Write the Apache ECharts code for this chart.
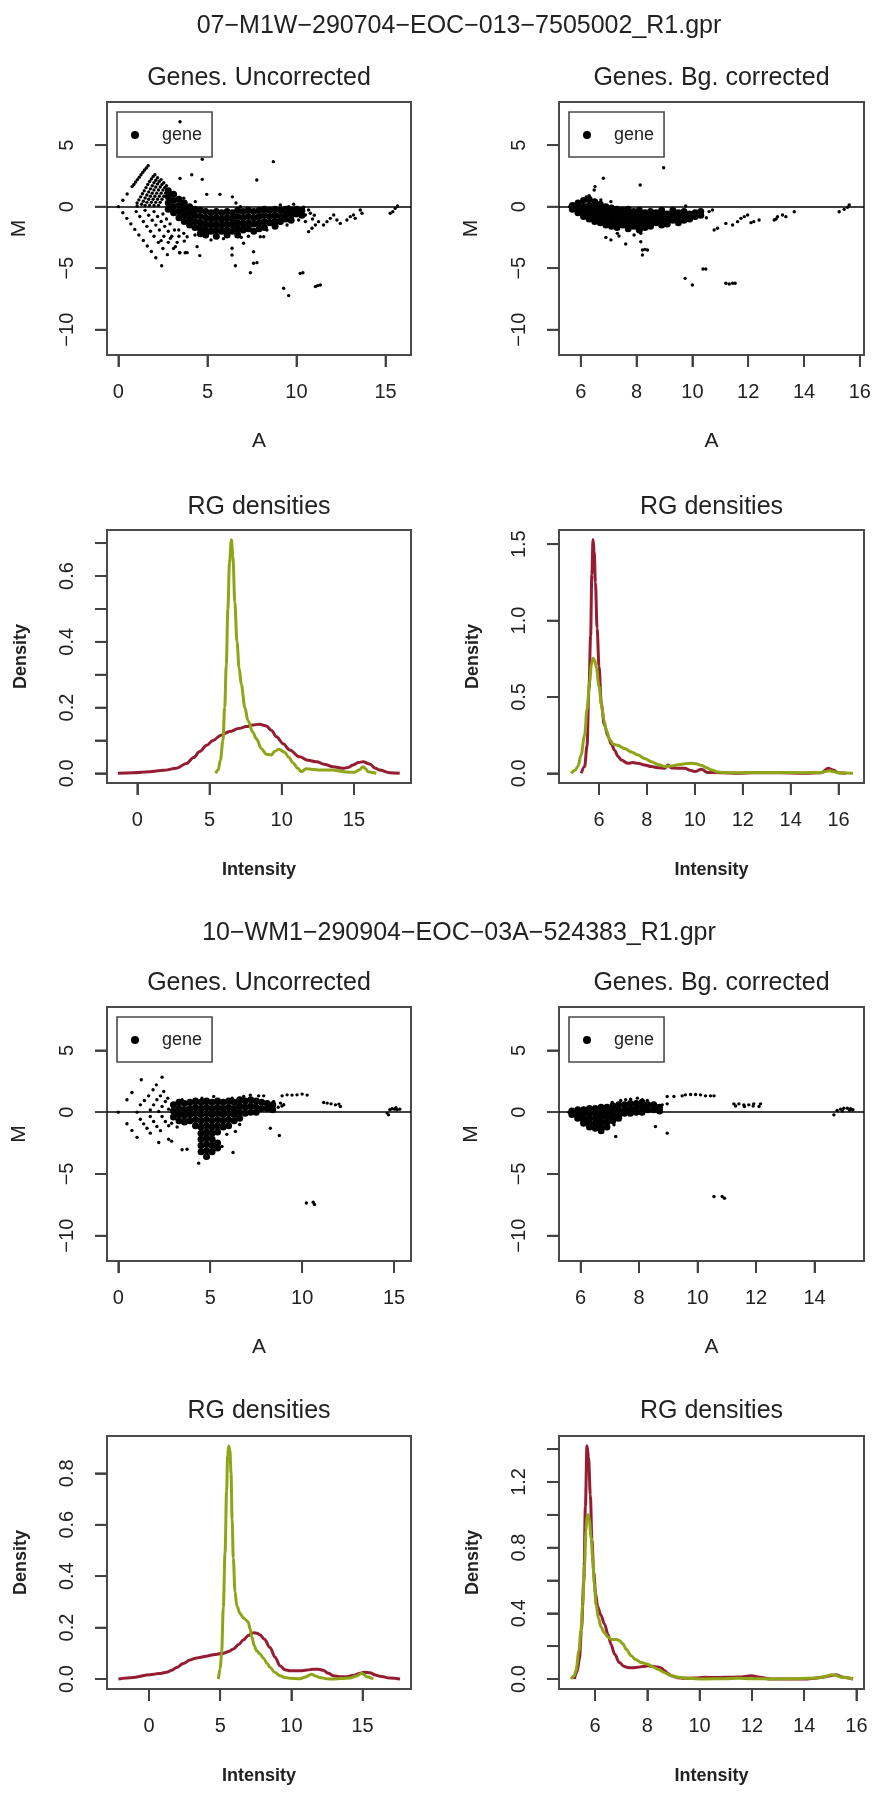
<!DOCTYPE html>
<html><head><meta charset="utf-8">
<script src="https://cdn.jsdelivr.net/npm/echarts@6.0.0/dist/echarts.min.js"></script>
<style>html,body{margin:0;padding:0;background:#fff}#c{width:876px;height:1804px}</style>
</head><body><div id="c"></div>
<script>
// ---------- titles ----------
const mainTitles = ['07\u2212M1W\u2212290704\u2212EOC\u2212013\u22127505002_R1.gpr', '10\u2212WM1\u2212290904\u2212EOC\u221203A\u2212524383_R1.gpr'];
const panelTitles = ['Genes. Uncorrected', 'Genes. Bg. corrected', 'RG densities', 'RG densities',
                     'Genes. Uncorrected', 'Genes. Bg. corrected', 'RG densities', 'RG densities'];
const legendLabel = 'gene';

// ---------- tick values ----------
const ticksA15 = [0, 5, 10, 15];
const ticksA6to16 = [6, 8, 10, 12, 14, 16];
const ticksA6to14 = [6, 8, 10, 12, 14];
const ticksM = [-10, -5, 0, 5];
const ticksD07U = [0, 0.1, 0.2, 0.3, 0.4, 0.5, 0.6, 0.7];
const labelsD07U = [0, 0.2, 0.4, 0.6];
const ticksD07B = [0, 0.5, 1, 1.5];
const ticksD10U = [0, 0.2, 0.4, 0.6, 0.8];
const ticksD10B = [0, 0.2, 0.4, 0.6, 0.8, 1.0, 1.2, 1.4];
const labelsD10B = [0, 0.4, 0.8, 1.2];

// ---------- MA data: array 07, uncorrected ----------
const ma07U_core = [
[2.8,1.3],[2.8,0.8],[2.8,0.3],[2.8,-0.2],
[3.1,1.0],[3.1,0.5],[3.1,0.0],[3.1,-0.5],
[3.4,0.6],[3.4,0.1],[3.4,-0.4],[3.4,-0.9],
[3.7,0.3],[3.7,-0.2],[3.7,-0.7],[3.7,-1.2],
[4.0,0.0],[4.0,-0.5],[4.0,-1.0],[4.0,-1.5],
[4.3,-0.2],[4.3,-0.7],[4.3,-1.2],[4.3,-1.7],
[4.6,-0.3],[4.6,-0.8],[4.6,-1.3],[4.6,-1.8],[4.6,-2.2],
[4.9,-0.4],[4.9,-0.9],[4.9,-1.4],[4.9,-1.9],[4.9,-2.3],
[5.2,-0.5],[5.2,-1.0],[5.2,-1.5],[5.2,-2.0],
[5.5,-0.4],[5.5,-0.9],[5.5,-1.4],[5.5,-1.9],[5.5,-2.4],
[5.8,-0.5],[5.8,-1.0],[5.8,-1.5],[5.8,-2.0],
[6.1,-0.4],[6.1,-0.9],[6.1,-1.4],[6.1,-1.9],[6.1,-2.3],
[6.4,-0.5],[6.4,-1.0],[6.4,-1.5],[6.4,-2.0],
[6.7,-0.3],[6.7,-0.8],[6.7,-1.3],[6.7,-1.8],[6.7,-2.3],
[7.0,-0.4],[7.0,-0.9],[7.0,-1.4],[7.0,-1.9],
[7.3,-0.3],[7.3,-0.8],[7.3,-1.3],[7.3,-1.8],
[7.6,-0.4],[7.6,-0.9],[7.6,-1.4],[7.6,-2.0],
[7.9,-0.3],[7.9,-0.8],[7.9,-1.3],[7.9,-1.8],
[8.2,-0.2],[8.2,-0.7],[8.2,-1.2],[8.2,-1.7],
[8.5,-0.3],[8.5,-0.8],[8.5,-1.3],
[8.8,-0.2],[8.8,-0.7],[8.8,-1.2],[8.8,-1.6],
[9.1,-0.3],[9.1,-0.8],[9.1,-1.2],
[9.4,-0.2],[9.4,-0.6],[9.4,-1.0],
[9.7,-0.3],[9.7,-0.7],[9.7,-1.1],
[10.0,-0.2],[10.0,-0.6],
[10.3,-0.3],[10.3,-0.7]
];
const ma07U_pts = [
[0,0],[0.25,0.52],[0.49,1.03],[0.77,1.63],[0.87,1.8],[0.97,2.0],[1.07,2.2],[1.17,2.4],[1.27,2.6],[1.37,2.8],[1.47,2.98],[1.57,3.15],[1.67,3.33],
[1.05,0.3],[1.15,0.55],[1.25,0.8],[1.35,1.05],[1.45,1.3],[1.55,1.55],[1.65,1.8],[1.75,2.05],[1.85,2.25],[1.95,2.45],[2.05,2.6],
[1.3,0.2],[1.4,0.45],[1.5,0.7],[1.6,0.95],[1.7,1.2],[1.8,1.45],[1.9,1.7],[2.0,1.95],[2.1,2.15],[2.2,2.35],
[1.5,0.1],[1.6,0.35],[1.7,0.6],[1.8,0.85],[1.9,1.1],[2.0,1.35],[2.1,1.6],[2.2,1.85],[2.3,2.05],[2.4,2.2],
[1.75,0.1],[1.85,0.35],[1.95,0.6],[2.05,0.85],[2.15,1.1],[2.25,1.35],[2.35,1.6],[2.45,1.8],[2.55,1.95],
[2.0,0.1],[2.1,0.35],[2.2,0.6],[2.3,0.85],[2.4,1.1],[2.5,1.35],[2.6,1.55],[2.7,1.7],
[2.25,0.1],[2.35,0.35],[2.45,0.6],[2.55,0.85],[2.65,1.1],[2.75,1.3],
[1.05,0.05],
[0.25,-0.5],[0.47,-0.95],[0.7,-1.4],[0.92,-1.85],[1.15,-2.3],[1.4,-2.75],[1.62,-3.2],[1.85,-3.65],[2.1,-4.15],[2.43,-4.8],
[1.0,-0.4],[1.2,-0.8],[1.4,-1.2],[1.6,-1.6],[1.8,-2.0],[2.0,-2.4],[2.25,-2.9],[2.5,-3.4],[2.75,-3.9],
[1.5,-0.3],[1.7,-0.7],[1.9,-1.1],[2.1,-1.5],[2.3,-1.9],[2.55,-2.4],[2.8,-2.9],[3.1,-3.4],[3.45,-3.75],
[2.0,-0.4],[2.2,-0.8],[2.4,-1.2],[2.6,-1.6],[2.8,-2.0],[3.0,-2.4],[3.3,-2.9],[3.75,-3.75],
[2.5,-0.6],[2.7,-1.0],[2.9,-1.4],[3.15,-1.9],[3.4,-2.4],[3.7,-2.8],
[3.46,6.9],[4.71,3.85],[8.70,3.66],[7.77,2.17],[3.46,2.3],[4.12,2.6],[4.71,2.22],[4.96,1.0],[5.7,1.0],[6.4,0.8],[6.6,0.3],
[3.67,0.68],[4.32,0.41],[6.85,0.0],[7.22,-0.1],[9.09,0.14],[9.56,0.0],[9.84,0.2],[10.4,-0.05],[10.68,-0.27],
[3.86,-2.44],[4.42,-3.25],[4.57,-3.98],[3.44,-3.74],[3.86,-3.74],[3.2,-3.25],[2.92,-2.57],[2.4,-2.76],[3.39,-1.9],[3.67,-2.17],
[6.38,-3.38],[6.38,-3.93],[6.57,-4.8],[7.03,-2.98],[7.59,-3.66],[7.59,-4.6],[7.78,-4.55],[7.41,-5.37],[8.16,-2.44],[8.34,-1.9],
[9.28,-6.63],[9.56,-7.23],[10.21,-5.42],[10.36,-5.37],[11.06,-6.5],[11.19,-6.42],[11.34,-6.37],
[10.68,-2.03],[10.87,-1.76],[11.06,-1.49],[11.24,-1.22],[11.52,-1.49],[11.71,-1.22],[11.9,-0.95],[12.09,-0.68],[12.27,-1.08],[12.46,-1.36],
[12.83,-1.08],[13.02,-0.81],[13.2,-0.68],[13.3,-0.95],[13.58,-0.27],[13.68,-0.54],[15.26,-0.54],[15.41,-0.41],[15.54,-0.14],[15.67,0.05],
[8.72,-1.08],[9.09,-1.36],[9.47,-1.49],[9.75,-0.81],[10.12,-1.08],[10.5,-0.68],[10.78,-0.54],[7.97,-2.44],[5.2,-2.7],[5.9,-2.6],
[6.9,-2.5],[7.3,-2.4],[4.3,-2.3],[10.5,-1.2],[10.9,-1.0],[11.0,-0.7]
];

// ---------- MA data: array 07, background corrected ----------
const ma07B_core = [
[5.7,0.1],[5.7,-0.2],
[5.9,0.3],[5.9,-0.2],[5.9,-0.5],
[6.1,0.5],[6.1,0.0],[6.1,-0.4],[6.1,-0.8],
[6.3,0.6],[6.3,0.1],[6.3,-0.3],[6.3,-0.7],[6.3,-1.0],
[6.5,0.4],[6.5,0.0],[6.5,-0.4],[6.5,-0.8],[6.5,-1.2],
[6.7,0.2],[6.7,-0.2],[6.7,-0.6],[6.7,-1.0],[6.7,-1.3],
[6.9,0.0],[6.9,-0.4],[6.9,-0.8],[6.9,-1.2],[6.9,-1.5],
[7.1,-0.1],[7.1,-0.5],[7.1,-0.9],[7.1,-1.3],[7.1,-1.6],
[7.3,-0.2],[7.3,-0.6],[7.3,-1.0],[7.3,-1.4],[7.3,-1.7],
[7.5,-0.3],[7.5,-0.7],[7.5,-1.1],[7.5,-1.5],
[7.7,-0.2],[7.7,-0.6],[7.7,-1.0],[7.7,-1.4],[7.7,-1.8],
[7.9,-0.4],[7.9,-0.8],[7.9,-1.2],[7.9,-1.6],
[8.1,-0.3],[8.1,-0.7],[8.1,-1.1],[8.1,-1.5],[8.1,-1.9],
[8.3,-0.5],[8.3,-0.9],[8.3,-1.3],[8.3,-1.7],
[8.5,-0.4],[8.5,-0.8],[8.5,-1.2],[8.5,-1.6],
[8.7,-0.5],[8.7,-0.9],[8.7,-1.3],
[8.9,-0.3],[8.9,-0.7],[8.9,-1.1],[8.9,-1.5],
[9.1,-0.6],[9.1,-1.0],[9.1,-1.4],
[9.3,-0.3],[9.3,-0.7],[9.3,-1.1],
[9.5,-0.5],[9.5,-0.9],[9.5,-1.3],
[9.7,-0.4],[9.7,-0.8],[9.7,-1.1],
[9.9,-0.6],[9.9,-1.0],
[10.1,-0.5],[10.1,-0.8],
[10.3,-0.4],[10.3,-0.7]
];
const ma07B_pts = [
[5.6,0.0],[8.97,3.17],[6.81,2.31],[8.13,1.76],[6.51,1.63],[6.48,1.36],[6.72,0.54],[7.08,0.41],[6.3,0.9],[6.2,0.8],
[9.76,0.05],[9.28,-0.14],[10.72,-0.27],[10.6,-0.4],[10.5,-0.9],
[10.78,-1.9],[10.9,-1.76],[11.2,-1.36],[11.44,-1.49],[11.62,-1.22],[11.74,-0.95],[11.86,-0.81],[11.98,-0.68],[12.1,-1.3],[12.2,-1.22],
[12.39,-1.08],[12.93,-1.08],[13.05,-0.81],[13.23,-0.68],[13.35,-0.81],[13.65,-0.41],[13.0,-1.0],
[15.26,-0.41],[15.44,-0.22],[15.62,0.14],[15.56,-0.05],
[6.9,-2.5],[7.08,-2.7],[7.31,-2.17],[7.37,-2.39],[7.61,-3.03],[7.91,-2.3],[8.15,-2.17],[8.15,-2.85],[8.21,-3.52],[8.3,-3.47],
[8.21,-3.93],[8.39,-3.52],[8.03,-1.9],
[9.74,-5.83],[10.0,-6.37],[10.38,-5.07],[10.48,-5.07],[11.2,-6.23],[11.32,-6.29],[11.44,-6.23],[11.53,-6.23]
];

// ---------- MA data: array 10, uncorrected ----------
const ma10U_core = [
[3.0,0.6],[3.0,0.1],[3.0,-0.4],
[3.3,0.8],[3.3,0.3],[3.3,-0.2],[3.3,-0.7],
[3.6,0.7],[3.6,0.2],[3.6,-0.3],[3.6,-0.8],
[3.9,0.8],[3.9,0.3],[3.9,-0.2],[3.9,-0.7],
[4.2,0.9],[4.2,0.4],[4.2,-0.1],[4.2,-0.6],[4.2,-1.1],
[4.5,0.8],[4.5,0.3],[4.5,-0.2],[4.5,-0.7],[4.5,-1.2],[4.5,-1.7],[4.5,-2.2],[4.5,-2.7],[4.5,-3.2],
[4.8,0.9],[4.8,0.4],[4.8,-0.1],[4.8,-0.6],[4.8,-1.1],[4.8,-1.6],[4.8,-2.1],[4.8,-2.6],[4.8,-3.1],[4.8,-3.6],
[5.1,0.8],[5.1,0.3],[5.1,-0.2],[5.1,-0.7],[5.1,-1.2],[5.1,-1.7],[5.1,-2.2],[5.1,-2.7],[5.1,-3.2],
[5.4,0.9],[5.4,0.4],[5.4,-0.1],[5.4,-0.6],[5.4,-1.1],[5.4,-1.6],[5.4,-2.5],[5.4,-2.9],
[5.7,0.8],[5.7,0.3],[5.7,-0.2],[5.7,-0.7],[5.7,-1.2],
[6.0,0.9],[6.0,0.4],[6.0,-0.1],[6.0,-0.6],[6.0,-1.1],
[6.3,0.8],[6.3,0.3],[6.3,-0.2],[6.3,-0.7],
[6.6,1.0],[6.6,0.5],[6.6,0.0],[6.6,-0.5],
[6.9,0.9],[6.9,0.4],[6.9,-0.1],
[7.2,1.0],[7.2,0.5],[7.2,0.0],
[7.5,0.9],[7.5,0.4],[7.5,0.0],
[7.8,0.8],[7.8,0.3],
[8.1,0.7],[8.1,0.3],
[8.4,0.6],[8.4,0.2]
];
const ma10U_pts = [
[0,0],[0.47,1.0],[0.74,1.59],[1.25,2.62],
[1.02,0.0],[1.2,0.59],[1.42,0.94],[1.65,1.32],[1.89,1.81],[2.07,2.21],[2.38,2.83],
[1.74,0.18],[1.92,0.59],[2.1,1.0],[2.29,1.32],[2.47,1.67],
[2.2,0.05],[2.38,0.46],[2.56,0.86],[2.69,1.13],
[2.74,0.24],[2.92,0.59],
[0.47,-0.94],[0.74,-1.48],[1.02,-2.04],
[1.2,-0.57],[1.38,-0.95],[1.56,-1.3],[1.74,-1.7],
[1.74,-0.35],[1.92,-0.76],[2.1,-1.16],[2.29,-1.5],
[2.38,-0.35],[2.56,-0.76],[2.74,-1.1],
[2.2,-2.46],[2.74,-2.19],[2.9,-2.35],
[3.47,1.0],[4.55,1.13],[5.19,1.27],[6.19,1.13],[6.82,1.27],[7.18,1.38],[7.63,1.32],[7.91,1.32],[8.45,0.86],[8.82,0.73],
[8.91,1.32],[9.18,1.4],[9.45,1.38],[9.72,1.4],[10.0,1.46],[10.27,1.38],
[11.17,0.78],[11.36,0.73],[11.57,0.67],[11.81,0.59],[12.0,0.65],[12.08,0.46],
[14.62,-0.08],[14.77,0.19],[14.89,0.27],[15.02,0.24],[15.16,0.19],[15.31,0.24],[14.7,-0.22],[15.1,0.35],
[8.27,-1.3],[8.76,-1.89],[6.37,-1.57],[6.24,-3.27],[5.64,-2.78],[3.47,-3.05],[3.74,-3.0],[4.37,-4.13],[5.9,-1.8],[6.6,-1.0],
[3.2,-1.2],[2.9,-0.9],[8.7,0.4],[8.9,0.5],[9.0,0.6],
[10.23,-7.35],[10.6,-7.3],[10.67,-7.48]
];

// ---------- MA data: array 10, background corrected ----------
const ma10B_core = [
[5.7,0.1],[5.7,-0.2],
[5.9,0.2],[5.9,-0.2],[5.9,-0.5],
[6.1,0.2],[6.1,-0.2],[6.1,-0.6],[6.1,-0.9],
[6.3,0.3],[6.3,-0.1],[6.3,-0.5],[6.3,-0.9],[6.3,-1.2],
[6.5,0.3],[6.5,-0.1],[6.5,-0.5],[6.5,-0.9],[6.5,-1.3],
[6.7,0.4],[6.7,0.0],[6.7,-0.4],[6.7,-0.8],[6.7,-1.2],[6.7,-1.5],
[6.9,0.4],[6.9,0.0],[6.9,-0.4],[6.9,-0.8],[6.9,-1.2],
[7.1,0.5],[7.1,0.1],[7.1,-0.3],[7.1,-0.7],
[7.3,0.6],[7.3,0.2],[7.3,-0.2],[7.3,-0.5],
[7.5,0.6],[7.5,0.2],[7.5,-0.1],
[7.7,0.7],[7.7,0.3],[7.7,-0.1],
[7.9,0.7],[7.9,0.3],[7.9,0.0],
[8.1,0.8],[8.1,0.4],[8.1,0.0],
[8.3,0.6],[8.3,0.2],
[8.5,0.6],[8.5,0.2],
[8.7,0.4],[8.7,0.1]
];
const ma10B_pts = [
[5.6,0.0],[7.08,0.78],[7.37,0.94],[7.54,1.0],[7.71,1.05],[7.94,1.13],[8.11,1.0],[8.28,0.94],[8.45,0.59],[8.62,0.51],[8.79,0.59],[8.96,0.67],
[8.96,1.27],[9.19,1.27],[9.47,1.32],[9.58,1.4],[9.76,1.43],[9.93,1.43],[10.1,1.4],[10.27,1.32],[10.44,1.32],[10.56,1.32],
[11.24,0.67],[11.41,0.67],[11.58,0.59],[11.75,0.59],[11.92,0.67],[12.1,0.46],[12.15,0.67],[11.3,0.5],[11.6,0.45],[11.9,0.5],
[14.66,-0.22],[14.77,0.13],[14.89,0.24],[15.0,0.32],[15.12,0.32],[15.23,0.27],[15.31,0.19],[14.95,0.1],[15.2,0.15],
[7.14,-1.03],[7.2,-1.97],[8.56,-1.16],[8.96,-1.7],
[10.56,-6.83],[10.84,-6.83],[10.92,-6.97]
];

// ---------- density data (Intensity, Density) ----------
const dens07U_red = [[-1.34,0],[-0.3,0.002],[0.85,0.005],[1.8,0.009],[2.7,0.015],[3.4,0.03],[3.9,0.048],[4.32,0.066],[4.8,0.085],[5.24,0.1],[5.8,0.116],[6.4,0.127],[7.0,0.136],[7.55,0.142],[8.0,0.147],[8.47,0.149],[8.93,0.144],[9.3,0.13],[9.63,0.111],[10.1,0.09],[10.55,0.071],[11.24,0.05],[11.8,0.04],[12.4,0.035],[13.0,0.027],[13.55,0.02],[14.24,0.015],[14.6,0.018],[14.93,0.025],[15.3,0.033],[15.63,0.035],[16.09,0.028],[16.5,0.015],[16.78,0.01],[17.47,0.002],[18.17,0]];
const dens07U_green = [[5.42,0],[5.6,0.01],[5.75,0.04],[5.93,0.1],[6.05,0.2],[6.16,0.33],[6.27,0.5],[6.38,0.64],[6.51,0.71],[6.62,0.66],[6.75,0.52],[6.9,0.4],[7.05,0.32],[7.2,0.27],[7.45,0.2],[7.66,0.16],[8.0,0.125],[8.24,0.105],[8.6,0.075],[8.93,0.058],[9.28,0.056],[9.55,0.068],[9.8,0.073],[10.2,0.064],[10.5,0.048],[10.78,0.032],[11.1,0.015],[11.36,0.005],[11.7,0.014],[12.1,0.012],[12.63,0.01],[13.1,0.01],[13.55,0.01],[14.0,0.007],[14.47,0.004],[15.05,0.003],[15.35,0.01],[15.63,0.02],[15.85,0.012],[15.97,0.005],[16.55,0]];
const dens07B_red = [[5.26,0],[5.4,0.044],[5.5,0.18],[5.58,0.55],[5.65,0.9],[5.7,1.3],[5.75,1.53],[5.8,1.45],[5.85,1.25],[5.92,0.95],[6.0,0.7],[6.1,0.45],[6.22,0.32],[6.38,0.24],[6.52,0.19],[6.65,0.15],[6.8,0.11],[6.93,0.087],[7.21,0.065],[7.4,0.07],[7.63,0.065],[7.9,0.055],[8.19,0.044],[8.5,0.036],[8.74,0.033],[8.88,0.055],[9.02,0.035],[9.3,0.033],[9.58,0.033],[9.8,0.02],[10.0,0.011],[10.27,0.026],[10.55,0.005],[11.11,0.004],[11.8,0],[12.4,0.004],[13.2,0.004],[14.0,0.002],[14.6,0],[15.28,0.004],[15.56,0.033],[15.77,0.022],[16.0,0.004],[16.3,0]];
const dens07B_green = [[4.84,0],[5.0,0.02],[5.12,0.045],[5.25,0.12],[5.4,0.25],[5.5,0.42],[5.61,0.6],[5.68,0.71],[5.75,0.753],[5.82,0.74],[5.89,0.69],[6.0,0.57],[6.1,0.45],[6.2,0.35],[6.31,0.28],[6.45,0.22],[6.6,0.19],[6.79,0.183],[7.07,0.162],[7.35,0.14],[7.63,0.12],[7.9,0.097],[8.19,0.076],[8.45,0.058],[8.74,0.045],[9.0,0.048],[9.3,0.056],[9.6,0.063],[9.85,0.065],[10.05,0.062],[10.27,0.053],[10.5,0.036],[10.69,0.022],[11.0,0.008],[11.25,0.004],[12.0,0.004],[13.2,0.005],[14.5,0.004],[15.28,0.005],[15.45,0.012],[15.63,0.017],[15.8,0.01],[16.0,0.004],[16.6,0]];
const dens10U_red = [[-2.15,0],[-1.1,0.006],[0.07,0.017],[0.7,0.021],[1.24,0.026],[1.6,0.034],[1.94,0.045],[2.4,0.06],[2.88,0.074],[3.2,0.08],[3.58,0.084],[4.0,0.089],[4.52,0.094],[5.22,0.1],[5.6,0.107],[5.92,0.117],[6.3,0.134],[6.62,0.152],[7.0,0.17],[7.33,0.18],[7.6,0.178],[7.79,0.172],[8.1,0.155],[8.5,0.123],[8.85,0.085],[9.2,0.052],[9.55,0.036],[9.9,0.032],[10.6,0.032],[11.1,0.035],[11.54,0.038],[11.9,0.038],[12.24,0.034],[12.6,0.022],[12.94,0.013],[13.4,0.009],[13.88,0.009],[14.4,0.015],[14.82,0.022],[15.1,0.026],[15.52,0.024],[15.9,0.016],[16.22,0.011],[16.92,0.004],[17.63,0]];
const dens10U_green = [[4.87,0],[5.0,0.04],[5.1,0.1],[5.22,0.28],[5.34,0.49],[5.45,0.73],[5.52,0.87],[5.6,0.906],[5.68,0.89],[5.76,0.8],[5.84,0.62],[5.92,0.47],[6.04,0.34],[6.16,0.285],[6.4,0.255],[6.62,0.238],[6.85,0.228],[6.98,0.22],[7.1,0.195],[7.21,0.165],[7.4,0.128],[7.56,0.11],[7.8,0.097],[8.03,0.082],[8.3,0.06],[8.5,0.045],[8.85,0.025],[9.2,0.013],[9.55,0.006],[9.9,0.003],[10.6,0.001],[11.0,0.008],[11.42,0.019],[11.7,0.012],[12.0,0.006],[12.5,0.001],[12.94,0],[13.5,0.002],[14.12,0.004],[14.6,0.012],[14.93,0.022],[15.1,0.018],[15.28,0.009],[15.75,0]];
const dens10B_red = [[5.21,0],[5.32,0.05],[5.4,0.12],[5.48,0.3],[5.57,0.6],[5.63,1.05],[5.69,1.42],[5.75,1.35],[5.82,1.12],[5.88,0.85],[5.95,0.65],[6.02,0.52],[6.1,0.44],[6.22,0.39],[6.36,0.335],[6.5,0.27],[6.61,0.21],[6.75,0.15],[6.93,0.1],[7.1,0.078],[7.25,0.07],[7.45,0.068],[7.63,0.071],[7.82,0.076],[8.02,0.08],[8.2,0.077],[8.4,0.073],[8.55,0.065],[8.66,0.05],[8.8,0.032],[8.91,0.02],[9.15,0.008],[9.42,0.004],[9.8,0.006],[10.19,0.01],[10.6,0.009],[10.96,0.01],[11.5,0.012],[11.98,0.02],[12.3,0.01],[12.74,0],[13.4,0],[14.02,0],[14.4,0.004],[14.66,0.01],[14.95,0.018],[15.23,0.026],[15.49,0.01],[15.87,0]];
const dens10B_green = [[5.08,0],[5.2,0.02],[5.27,0.05],[5.38,0.17],[5.46,0.3],[5.53,0.46],[5.6,0.7],[5.65,0.9],[5.69,0.99],[5.74,1.0],[5.78,0.97],[5.85,0.86],[5.91,0.74],[5.97,0.58],[6.04,0.45],[6.13,0.37],[6.23,0.315],[6.36,0.28],[6.49,0.255],[6.65,0.24],[6.8,0.242],[6.93,0.235],[7.06,0.215],[7.2,0.18],[7.38,0.142],[7.55,0.118],[7.76,0.101],[8.02,0.09],[8.2,0.075],[8.4,0.06],[8.66,0.038],[8.91,0.02],[9.2,0.01],[9.55,0.004],[10.19,0],[11.0,0.002],[11.47,0.004],[12.0,0.002],[12.74,0],[13.6,0.002],[14.53,0.006],[14.8,0.015],[15.04,0.026],[15.2,0.022],[15.4,0.012],[15.87,0]];

// ---------- styling / layout ----------
const FONT = "'Liberation Sans', Arial, Helvetica, sans-serif";
const TXT = '#222222';
const BOX = '#4a4a4a';
const TICK = '#404040';
const TICK_LEN = 12;
const RED = '#951d33';
const GREEN = '#8fa518';

const fmtM = v => (v < 0 ? '\u2212' + Math.abs(v) : String(v));
const fmtD = v => Number(v).toFixed(1);
const fmtA = v => String(v);

const panels = [
  {kind:'ma', grid:[107,102,304,253], x:[-0.64,16.43], y:[-12.06,8.51], xt:ticksA15, yt:ticksM, yl:ticksM, core:ma07U_core, pts:ma07U_pts, title:panelTitles[0], ty:78},
  {kind:'ma', grid:[559,102,305,253], x:[5.22,16.15], y:[-12.06,8.51], xt:ticksA6to16, yt:ticksM, yl:ticksM, core:ma07B_core, pts:ma07B_pts, title:panelTitles[1], ty:78},
  {kind:'d', grid:[107,530,304,253], x:[-2.1,18.95], y:[-0.0295,0.74], xt:ticksA15, yt:ticksD07U, yl:labelsD07U, red:dens07U_red, green:dens07U_green, title:panelTitles[2], ty:507},
  {kind:'d', grid:[559,530,305,253], x:[4.33,17.06], y:[-0.0635,1.593], xt:ticksA6to16, yt:ticksD07B, yl:ticksD07B, red:dens07B_red, green:dens07B_green, title:panelTitles[3], ty:507},
  {kind:'ma', grid:[107,1007,304,254], x:[-0.615,15.92], y:[-12.05,8.51], xt:ticksA15, yt:ticksM, yl:ticksM, core:ma10U_core, pts:ma10U_pts, title:panelTitles[4], ty:983},
  {kind:'ma', grid:[559,1007,305,254], x:[5.26,15.69], y:[-12.05,8.51], xt:ticksA6to14, yt:ticksM, yl:ticksM, core:ma10B_core, pts:ma10B_pts, title:panelTitles[5], ty:983},
  {kind:'d', grid:[107,1436,304,253], x:[-2.95,18.4], y:[-0.0388,0.945], xt:ticksA15, yt:ticksD10U, yl:ticksD10U, red:dens10U_red, green:dens10U_green, title:panelTitles[6], ty:1411},
  {kind:'d', grid:[559,1436,305,253], x:[4.62,16.29], y:[-0.061,1.48], xt:ticksA6to16, yt:ticksD10B, yl:labelsD10B, red:dens10B_red, green:dens10B_green, title:panelTitles[7], ty:1411}
];

const grids = [], xAxes = [], yAxes = [], series = [], titles = [], legends = [];

titles.push({text: mainTitles[0], left: 459, top: 26, textAlign:'center', textVerticalAlign:'middle', padding:0,
  textStyle:{fontFamily:FONT, fontSize:25, fontWeight:'normal', color:TXT}});
titles.push({text: mainTitles[1], left: 459, top: 933, textAlign:'center', textVerticalAlign:'middle', padding:0,
  textStyle:{fontFamily:FONT, fontSize:25, fontWeight:'normal', color:TXT}});

// tick marks drawn through the axes' own scales (api.coord), outside the plot box
function xTickItem(params, api) {
  const cs = params.coordSys;
  const x = api.coord([api.value(0), api.value(1)])[0];
  const yb = cs.y + cs.height;
  return {type:'line', shape:{x1:x, y1:yb, x2:x, y2:yb + TICK_LEN}, style:{stroke:TICK, lineWidth:1.8}};
}
function yTickItem(params, api) {
  const cs = params.coordSys;
  const y = api.coord([api.value(0), api.value(1)])[1];
  return {type:'line', shape:{x1:cs.x - TICK_LEN, y1:y, x2:cs.x, y2:y}, style:{stroke:TICK, lineWidth:1.8}};
}

panels.forEach((p, i) => {
  const [gl, gt, gw, gh] = p.grid;
  grids.push({left: gl, top: gt, width: gw, height: gh, show: true, borderColor: BOX, borderWidth: 2});
  titles.push({text: p.title, left: gl + gw / 2, top: p.ty, textAlign:'center', textVerticalAlign:'middle', padding:0,
    textStyle:{fontFamily:FONT, fontSize:25, fontWeight:'normal', color:TXT}});
  const isMA = p.kind === 'ma';
  const nameStyle = isMA ? {fontFamily:FONT, fontSize:21, color:TXT, fontWeight:'normal'}
                         : {fontFamily:FONT, fontSize:18, color:TXT, fontWeight:'bold'};
  xAxes.push({
    type:'value', gridIndex:i, min:p.x[0], max:p.x[1],
    axisLine:{show:true, onZero:false, lineStyle:{color:BOX, width:2}}, splitLine:{show:false},
    axisTick:{show:true, length:TICK_LEN, customValues:p.xt, lineStyle:{color:TICK, width:1.8}},
    axisLabel:{show:true, margin:27, customValues:p.xt, formatter:fmtA, fontFamily:FONT, fontSize:20, color:TXT},
    name: isMA ? 'A' : 'Intensity', nameLocation:'middle', nameGap: isMA ? 76 : 78, nameTextStyle:nameStyle
  });
  yAxes.push({
    type:'value', gridIndex:i, min:p.y[0], max:p.y[1],
    axisLine:{show:true, onZero:false, lineStyle:{color:BOX, width:2}}, splitLine:{show:false},
    axisTick:{show:true, length:TICK_LEN, customValues:p.yt, lineStyle:{color:TICK, width:1.8}},
    axisLabel:{show:true, margin:30, rotate:90, customValues:p.yl, formatter: isMA ? fmtM : fmtD, fontFamily:FONT, fontSize:20, color:TXT},
    name: isMA ? 'M' : 'Density', nameLocation:'middle', nameGap:77, nameTextStyle:nameStyle
  });
  series.push({type:'custom', name:'xticks', xAxisIndex:i, yAxisIndex:i, silent:true, clip:false, z:10,
    data: p.xt.map(v => [v, p.y[0]]), renderItem: xTickItem});
  series.push({type:'custom', name:'yticks', xAxisIndex:i, yAxisIndex:i, silent:true, clip:false, z:10,
    data: p.yt.map(v => [p.x[0], v]), renderItem: yTickItem});
  if (isMA) {
    series.push({type:'scatter', name:legendLabel, xAxisIndex:i, yAxisIndex:i, data:p.core,
      symbol:'circle', symbolSize:7, itemStyle:{color:'#000', opacity:1}, silent:true, z:2});
    series.push({type:'scatter', name:legendLabel, xAxisIndex:i, yAxisIndex:i, data:p.pts,
      symbol:'circle', symbolSize:3.4, itemStyle:{color:'#000', opacity:1}, silent:true, z:3,
      markLine:{silent:true, symbol:['none','none'], label:{show:false}, animation:false,
        lineStyle:{color:'#000', width:1.6, type:'solid'}, emphasis:{disabled:true}, data:[{yAxis:0}]}});
    legends.push({left: gl + 10, top: gt + 10, orient:'horizontal', padding:[14,10,13,14],
      itemWidth:8, itemHeight:8, itemGap:0, icon:'circle', borderColor:BOX, borderWidth:1.6,
      selectedMode:false, data:[legendLabel],
      textStyle:{fontFamily:FONT, fontSize:18, color:TXT, lineHeight:18, padding:[0,0,0,18]}});
  } else {
    series.push({type:'line', name:'R', xAxisIndex:i, yAxisIndex:i, data:p.red, showSymbol:false,
      smooth:0.35, smoothMonotone:'x', lineStyle:{color:RED, width:3}, itemStyle:{color:RED}, silent:true, z:2});
    series.push({type:'line', name:'G', xAxisIndex:i, yAxisIndex:i, data:p.green, showSymbol:false,
      smooth:0.35, smoothMonotone:'x', lineStyle:{color:GREEN, width:3}, itemStyle:{color:GREEN}, silent:true, z:3});
  }
});

const chart = echarts.init(document.getElementById('c'), null, {width:876, height:1804});
chart.setOption({
  animation:false,
  backgroundColor:'#ffffff',
  textStyle:{fontFamily:FONT},
  title: titles,
  legend: legends,
  grid: grids,
  xAxis: xAxes,
  yAxis: yAxes,
  series: series
});
</script>
</body></html>
